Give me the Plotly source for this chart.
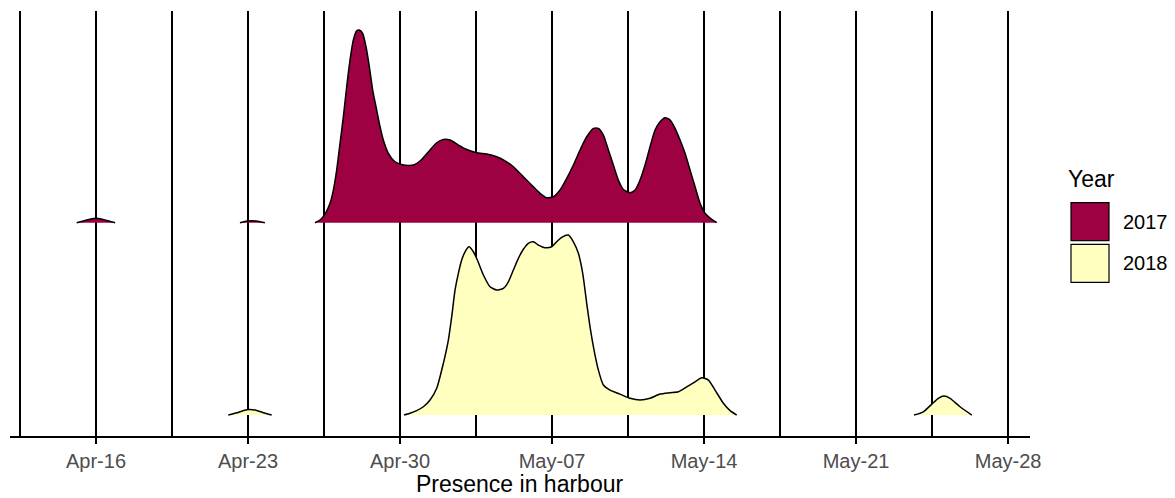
import pandas as pd
import plotly.graph_objects as go

# ---- data (days after Apr-30, scaled density height; None separates blobs) ----
BASE_DATE = "2018-04-30"
years = ["2017", "2018"]
colors = {"2017": "#9E0142", "2018": "#FFFFBF"}
baselines = {"2017": 1.0, "2018": 0.0}

days_2017 = [
    -14.89, -14.5, -14.2, -14.0, -13.8, -13.5, -13.12, None,
    -7.37, -7.1, -6.85, -6.55, -6.22, None,
    -3.915, -3.684, -3.454, -3.224, -3.070, -2.917, -2.763, -2.610, -2.456, -2.303,
    -2.149, -1.996, -1.873, -1.719, -1.566, -1.412, -1.259, -1.105, -0.952, -0.768,
    -0.537, -0.230, 0.154, 0.614, 0.998, 1.382, 1.689, 1.996, 2.303, 2.687,
    3.070, 3.531, 3.991, 4.452, 4.836, 5.220, 5.680, 6.141, 6.448, 6.755,
    7.062, 7.369, 7.676, 7.983, 8.290, 8.597, 8.904, 9.134, 9.364, 9.595,
    9.825, 10.055, 10.286, 10.593, 10.823, 11.053, 11.283, 11.514, 11.744, 11.974,
    12.205, 12.435, 12.665, 12.896, 13.126, 13.356, 13.587, 13.817, 14.047, 14.354,
    14.584,
]
dens_2017 = [
    0, 0.012, 0.021, 0.023, 0.021, 0.012, 0, None,
    0, 0.008, 0.010, 0.008, 0, None,
    0, 0.014, 0.045, 0.101, 0.170, 0.274, 0.413, 0.551, 0.707, 0.846,
    0.950, 0.998, 1.002, 0.985, 0.915, 0.811, 0.690, 0.603, 0.517, 0.430,
    0.361, 0.317, 0.300, 0.300, 0.329, 0.378, 0.416, 0.433, 0.430, 0.404,
    0.381, 0.364, 0.357, 0.343, 0.322, 0.291, 0.239, 0.187, 0.153, 0.130,
    0.135, 0.170, 0.231, 0.300, 0.378, 0.447, 0.491, 0.491, 0.456, 0.378,
    0.300, 0.222, 0.173, 0.156, 0.170, 0.222, 0.300, 0.395, 0.482, 0.525,
    0.546, 0.534, 0.491, 0.430, 0.361, 0.274, 0.187, 0.101, 0.049, 0.017,
    0,
]

days_2018 = [
    -7.91, -7.5, -7.2, -6.94, -6.6, -6.3, -5.91, None,
    0.184, 0.461, 0.768, 1.075, 1.382, 1.689, 1.996, 2.226, 2.380, 2.533,
    2.687, 2.840, 2.994, 3.178, 3.377, 3.562, 3.838, 4.145, 4.452, 4.759,
    4.989, 5.219, 5.450, 5.680, 5.910, 6.141, 6.371, 6.678, 6.985, 7.215,
    7.445, 7.752, 7.983, 8.213, 8.413, 8.597, 8.750, 8.935, 9.134, 9.364,
    9.671, 10.132, 10.593, 11.053, 11.514, 11.974, 12.435, 12.819, 13.203, 13.587,
    13.894, 14.200, 14.507, 14.891, 15.198, 15.505, None,
    23.67, 24.10, 24.49, 24.79, 25.05, 25.33, 25.79, 26.33,
]
dens_2018 = [
    0, 0.012, 0.024, 0.029, 0.024, 0.012, 0, None,
    0, 0.009, 0.023, 0.043, 0.078, 0.139, 0.269, 0.390, 0.511, 0.650,
    0.737, 0.806, 0.849, 0.875, 0.849, 0.806, 0.728, 0.667, 0.650, 0.659,
    0.693, 0.754, 0.815, 0.862, 0.893, 0.901, 0.884, 0.870, 0.875, 0.901,
    0.924, 0.936, 0.901, 0.841, 0.737, 0.581, 0.459, 0.338, 0.234, 0.156,
    0.130, 0.109, 0.087, 0.078, 0.087, 0.109, 0.116, 0.121, 0.147, 0.173,
    0.194, 0.182, 0.130, 0.061, 0.023, 0, None,
    0, 0.017, 0.057, 0.087, 0.099, 0.087, 0.043, 0,
]

tick_dates = ["2018-04-16", "2018-04-23", "2018-04-30", "2018-05-07",
              "2018-05-14", "2018-05-21", "2018-05-28"]
tick_labels = ["Apr-16", "Apr-23", "Apr-30", "May-07", "May-14", "May-21", "May-28"]
x_title = "Presence in harbour"
legend_title = "Year"

series = {"2017": (days_2017, dens_2017), "2018": (days_2018, dens_2018)}

base = pd.Timestamp(BASE_DATE)


def to_dates(days):
    return [None if d is None else base + pd.Timedelta(days=d) for d in days]


fig = go.Figure()
for yr in years:
    d, h = series[yr]
    yb = baselines[yr]
    fig.add_trace(go.Scatter(
        x=to_dates(d),
        y=[None if v is None else yb + v for v in h],
        mode="lines",
        fill="toself",
        fillcolor=colors[yr],
        line=dict(color="black", width=1.5, shape="spline", smoothing=0.6),
        connectgaps=False,
        name=yr,
        showlegend=False,
        hoverinfo="skip",
    ))

WEEK = 7 * 24 * 3600 * 1000
fig.update_xaxes(
    type="date",
    range=[base + pd.Timedelta(days=-17.96), base + pd.Timedelta(days=29.01)],
    tickmode="array",
    tickvals=tick_dates,
    ticktext=tick_labels,
    ticks="outside",
    ticklen=6,
    tickwidth=1.5,
    tickcolor="black",
    tickfont=dict(family="Arial", size=20, color="#4D4D4D"),
    showline=True,
    linecolor="black",
    linewidth=1.5,
    showgrid=True,
    gridcolor="black",
    gridwidth=1.5,
    zeroline=False,
    minor=dict(tick0="2018-04-12 12:00", dtick=WEEK / 2, showgrid=True,
               gridcolor="black", gridwidth=1.5, ticks=""),
)
fig.update_yaxes(
    range=[-0.109, 2.101],
    showticklabels=False,
    showgrid=False,
    zeroline=False,
    showline=False,
    ticks="",
)

# page offset of the figure (body margin) and target plot box in screen pixels
OFF = 8
SCREEN_W, SCREEN_H = 1175, 498
W, H = SCREEN_W - OFF, SCREEN_H - OFF
PLOT_L, PLOT_R, PLOT_T, PLOT_B = 10, 1030, 11, 436
L, T = PLOT_L - OFF, PLOT_T - OFF
R, B = SCREEN_W - PLOT_R, SCREEN_H - PLOT_B
PW, PH = PLOT_R - PLOT_L, PLOT_B - PLOT_T


def px_x(x):
    return (x - PLOT_L) / PW


def px_y(y):
    return (PLOT_B - y) / PH


key_boxes = {"2017": (202.7, 240.7), "2018": (244.3, 282.3)}
for yr in years:
    top, bot = key_boxes[yr]
    fig.add_shape(type="rect", xref="paper", yref="paper",
                  x0=px_x(1071), x1=px_x(1109), y0=px_y(bot), y1=px_y(top),
                  fillcolor=colors[yr], line=dict(color="black", width=1.2))
    fig.add_annotation(x=px_x(1121), y=px_y((top + bot) / 2), xref="paper", yref="paper",
                       text=yr, showarrow=False, xanchor="left", yanchor="middle",
                       font=dict(family="Arial", size=20, color="black"))
fig.add_annotation(x=px_x(1066), y=px_y(179), xref="paper", yref="paper",
                   text=legend_title, showarrow=False, xanchor="left", yanchor="middle",
                   font=dict(family="Arial", size=23, color="black"))
fig.add_annotation(x=px_x(519), y=px_y(484), xref="paper", yref="paper",
                   text=x_title, showarrow=False, xanchor="center", yanchor="middle",
                   font=dict(family="Arial", size=23, color="black"))

fig.update_layout(
    width=W, height=H,
    margin=dict(l=L, r=R, t=T, b=B),
    paper_bgcolor="white",
    plot_bgcolor="white",
    showlegend=False,
)

fig.write_html("out.html")
